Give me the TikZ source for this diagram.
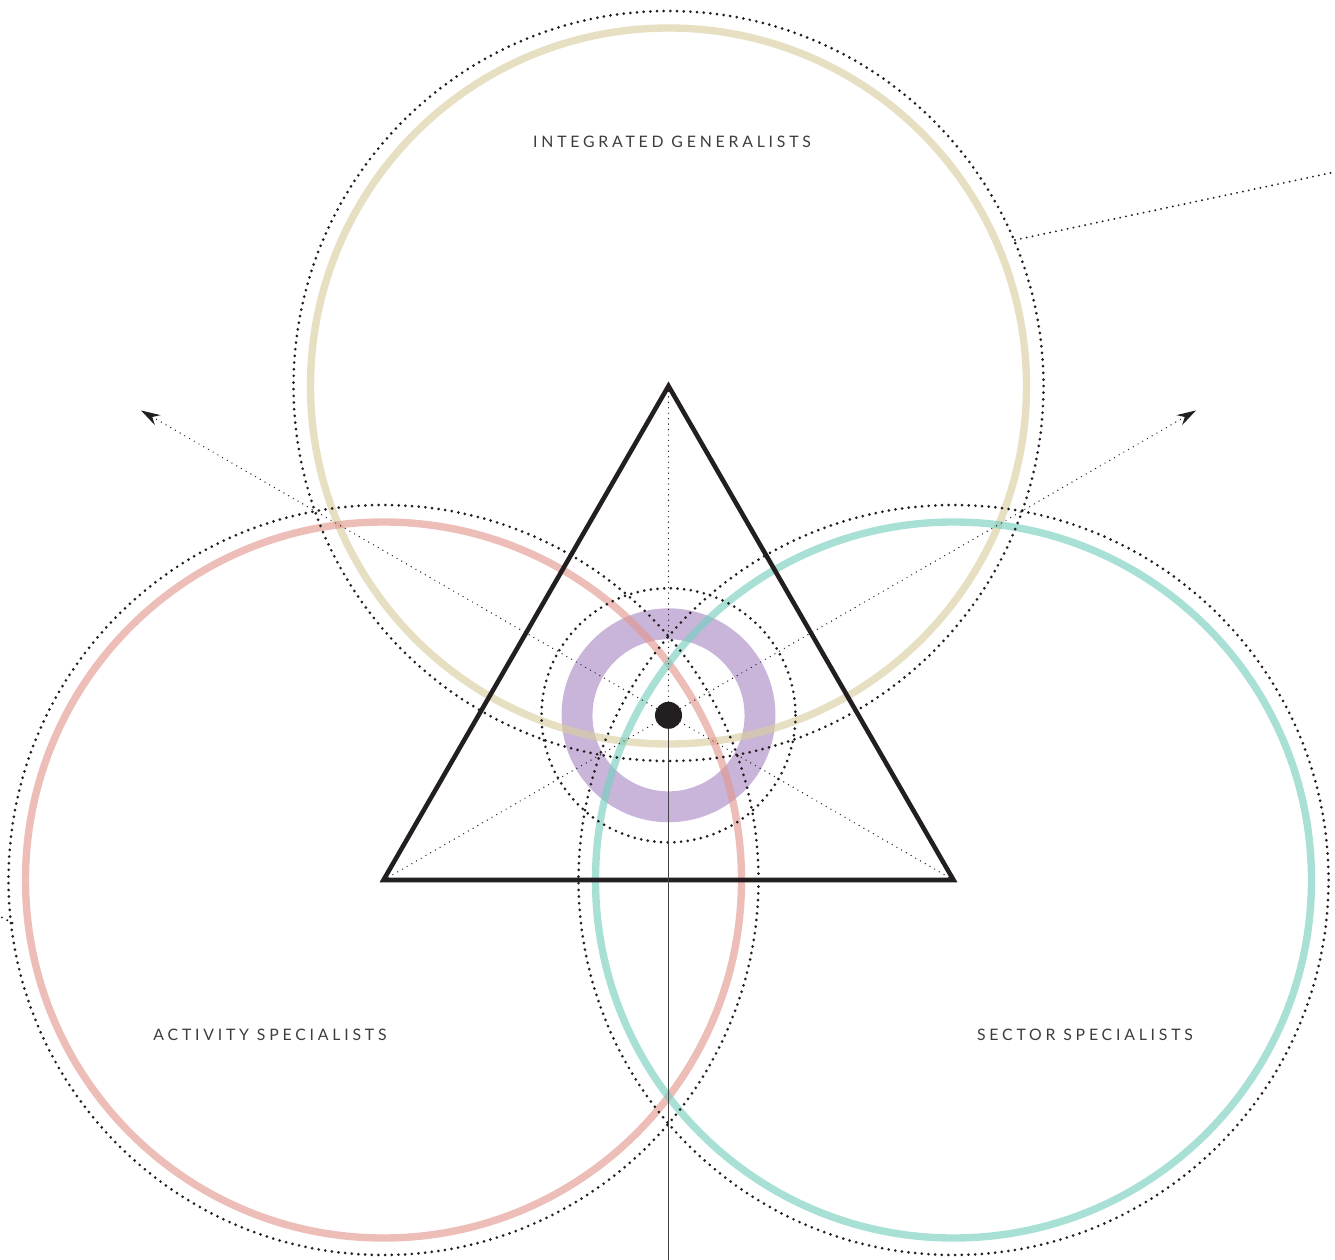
\documentclass[tikz,border=0pt]{standalone}
\usepackage{fontspec}
\newfontfamily\labelfont[LetterSpace=24]{Lato}
\usetikzlibrary{arrows.meta,calc}
\definecolor{generalist}{RGB}{216,206,161}
\definecolor{activity}{RGB}{227,153,146}
\definecolor{sector}{RGB}{121,207,192}
\definecolor{overlap}{RGB}{201,181,217}
\definecolor{inktext}{RGB}{60,60,60}
\definecolor{ink}{RGB}{35,31,32}

\begin{document}
\begin{tikzpicture}[x=0.02cm, y=-0.02cm,
  ring/.style={line width=4.2pt, opacity=0.65},
  dotring/.style={ink, line width=1.7pt, line cap=round, dash pattern=on 0pt off 3.8pt},
  leader/.style={ink, line width=1.2pt, line cap=round, dash pattern=on 0pt off 3.4pt},
  guide/.style={ink, line width=0.8pt, line cap=round, dash pattern=on 0pt off 3.1pt},
  grouptext/.style={font=\labelfont\fontsize{9}{10}\selectfont, text=inktext, anchor=center}]
  \useasboundingbox (0,0) rectangle (1335,1260);

  % Triangle corners and centre
  \coordinate (top) at (668.5,386);
  \coordinate (left) at (383.5,880);
  \coordinate (right) at (953.5,880);
  \coordinate (hub) at (668.5,715.3);
  \coordinate (foot) at (668.5,1260);

  % Purple ring
  \draw[overlap, line width=17.6pt] (hub) circle (91.5);

  % Coloured circles
  \draw[ring, generalist] (top) circle (358);
  \draw[ring, activity] (left) circle (358);
  \draw[ring, sector] (right) circle (358);

  % Dotted circles
  \draw[dotring] (top) circle (375);
  \draw[dotring] (left) circle (375);
  \draw[dotring] (right) circle (375);
  \draw[dotring] (hub) circle (127);

  % Guides through the centre
  \draw[guide] (top) -- (hub);
  \draw[guide, -{Stealth[length=11pt, width=6.5pt]}] (right) -- ($(right)!2.851!(hub)$);
  \draw[guide, -{Stealth[length=11pt, width=6.5pt]}] (left) -- ($(left)!2.851!(hub)$);

  % Leaders off the page
  \coordinate (gtouch) at (1015,240);
  \coordinate (gout) at (1335,172);
  \draw[leader] (gtouch) -- (gout);
  \coordinate (atouch) at (12.5,923);
  \coordinate (aout) at (0,916.5);
  \draw[leader] (atouch) -- (aout);

  % Triangle
  \draw[ink, line width=2.6pt] (top) -- (left) -- (right) -- cycle;

  % Stem and centre dot
  \draw[ink!85, line width=1.1pt] (hub) -- (foot);
  \fill[ink] (hub) circle (13.5);

  % Group names
  \node[grouptext] (generalists) at (672,142) {INTEGRATED GENERALISTS};
  \node[grouptext] (activity) at (270,1035) {ACTIVITY SPECIALISTS};
  \node[grouptext] (sector) at (1085,1035) {SECTOR SPECIALISTS};
\end{tikzpicture}
\end{document}
